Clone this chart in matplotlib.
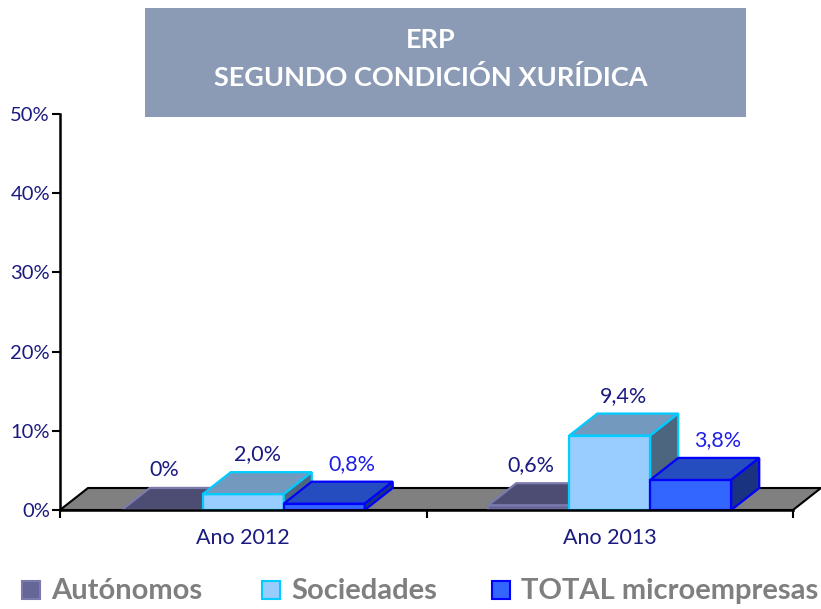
import matplotlib

matplotlib.use("Agg")
import matplotlib.pyplot as plt
from matplotlib.patches import Polygon, Rectangle

plt.rcParams.update({"font.family": ["Lato", "DejaVu Sans"]})

years = ["Ano 2012", "Ano 2013"]
series = ["Autónomos", "Sociedades", "TOTAL microempresas"]
autonomos = [0.0, 0.6]
sociedades = [2.0, 9.4]
total = [0.8, 3.8]
values = [autonomos, sociedades, total]

front = ["#666699", "#99ccff", "#3366ff"]
edges = ["#7a7aad", "#00ccff", "#0000ff"]
tops = ["#4d4d73", "#7399bf", "#264dbf"]
sides = ["#3d3d5c", "#4d6680", "#1a3380"]
label_colors = ["#1a1a80", "#1a1a80", "#1f1fe6"]
label_shift = [-0.033, 0.0, 0.036]
navy = "#1a1a80"

W, H = 821, 609
fig = plt.figure(figsize=(W / 100, H / 100), dpi=100)
ax = fig.add_axes([60 / W, (H - 510) / H, (793 - 60) / W, (510 - 114) / H])
ax.set_xlim(0, 2)
ax.set_ylim(0, 50)

# depth offset of the 3d look, in data units
dx = 28 / 733 * 2
dy = 22 / 396 * 50
bw = 0.221

# floor
ax.add_patch(Polygon([(0, 0), (2, 0), (2 + dx, dy), (dx, dy)], closed=True,
                     facecolor="#808080", edgecolor="black", lw=1.5,
                     clip_on=False, zorder=1))

for g in range(len(years)):
    for s in range(len(series)):
        v = values[s][g]
        x0 = g + 0.5 + (s - 1) * bw - bw / 2
        x1 = x0 + bw
        ax.bar(x0, v, width=bw, align="edge", color=front[s], edgecolor=edges[s],
               lw=1.6, zorder=2, clip_on=False)
        ax.add_patch(Polygon([(x0, v), (x1, v), (x1 + dx, v + dy), (x0 + dx, v + dy)],
                             closed=True, facecolor=tops[s], edgecolor=edges[s],
                             lw=1.6, zorder=2, clip_on=False))
        ax.add_patch(Polygon([(x1, 0), (x1 + dx, dy), (x1 + dx, v + dy), (x1, v)],
                             closed=True, facecolor=sides[s], edgecolor=edges[s],
                             lw=1.6, zorder=2, clip_on=False))
        txt = "0%" if v == 0 else f"{v:.1f}".replace(".", ",") + "%"
        ax.text((x0 + x1) / 2 + dx / 2 + label_shift[s], v + dy + 1.0, txt,
                ha="center", va="bottom", fontsize=15.5, color=label_colors[s],
                zorder=3)

ax.set_yticks(range(0, 51, 10))
ax.set_yticklabels([f"{t}%" for t in range(0, 51, 10)])
ax.set_xticks([0, 1, 2])
ax.set_xticklabels([])
ax.set_xticks([0.5, 1.5], minor=True)
ax.set_xticklabels(years, minor=True)
ax.tick_params(axis="x", which="minor", length=0, pad=13, labelsize=15.5, labelcolor=navy)
ax.tick_params(axis="x", which="major", length=5.8, width=1.5, direction="out")
ax.tick_params(axis="y", length=5.8, width=1.5, direction="out", labelsize=14.5,
               labelcolor=navy, pad=1.4)
for side in ["top", "right"]:
    ax.spines[side].set_visible(False)
ax.spines["left"].set_linewidth(1.8)
ax.spines["bottom"].set_linewidth(1.8)
ax.patch.set_visible(False)

# title box
fig.patches.append(Rectangle((145 / W, (H - 117) / H), (746 - 145) / W, 109 / H,
                             transform=fig.transFigure, facecolor="#8b9bb5",
                             edgecolor="none"))
fig.text(431 / W, 1 - 40 / H, "ERP", ha="center", va="center", color="white",
         fontsize=19.5, fontweight="bold")
fig.text(431 / W, 1 - 77 / H, "SEGUNDO CONDICIÓN XURÍDICA", ha="center",
         va="center", color="white", fontsize=19.5, fontweight="bold")

# legend, drawn by hand to match the spacing of the original
legend_x = [22, 262, 492]
for i in range(3):
    fig.patches.append(Rectangle((legend_x[i] / W, 1 - 599 / H), 18 / W, 18 / H,
                                 transform=fig.transFigure, facecolor=front[i],
                                 edgecolor=edges[i], lw=1.5))
    fig.text((legend_x[i] + 29) / W, 1 - 591 / H, series[i], ha="left", va="center",
             color="#7f7f7f", fontsize=21, fontweight="bold")

fig.savefig("out.png", dpi=100)
